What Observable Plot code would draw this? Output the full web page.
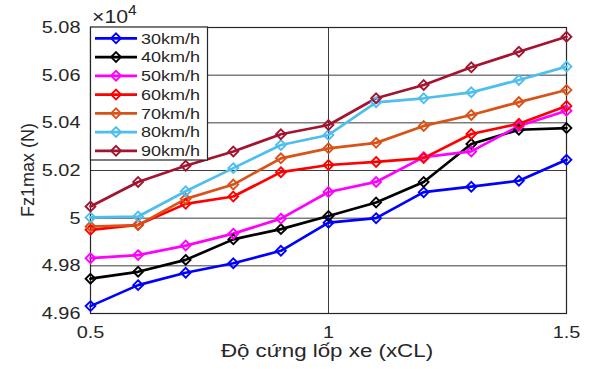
<!DOCTYPE html>
<html>
<head>
<meta charset="utf-8">
<script src="https://cdn.jsdelivr.net/npm/d3@7"></script>
<script src="https://cdn.jsdelivr.net/npm/@observablehq/plot@0.6"></script>
<style>
  html, body { margin: 0; padding: 0; background: #fff; }
  #chart svg { display: block; }
</style>
</head>
<body>
<div id="chart"></div>
<script>
// ---- data (values in units of ×10^4 N) ----
const xVals = [0.5, 0.6, 0.7, 0.8, 0.9, 1.0, 1.1, 1.2, 1.3, 1.4, 1.5];
const seriesNames = ["30km/h", "40km/h", "50km/h", "60km/h", "70km/h", "80km/h", "90km/h"];
const v30 = [4.9631, 4.9719, 4.9771, 4.9811, 4.9863, 4.9981, 5.0000, 5.0109, 5.0132, 5.0157, 5.0245];
const v40 = [4.9746, 4.9775, 4.9825, 4.9911, 4.9954, 5.0009, 5.0066, 5.0152, 5.0311, 5.0371, 5.0378];
const v50 = [4.9832, 4.9845, 4.9885, 4.9935, 4.9998, 5.0110, 5.0152, 5.0256, 5.0280, 5.0387, 5.0451];
const v60 = [4.9951, 4.9972, 5.0060, 5.0091, 5.0193, 5.0223, 5.0236, 5.0252, 5.0353, 5.0396, 5.0471];
const v70 = [4.9965, 4.9971, 5.0081, 5.0141, 5.0251, 5.0293, 5.0316, 5.0387, 5.0433, 5.0487, 5.0538];
const v80 = [5.0003, 5.0007, 5.0113, 5.0210, 5.0307, 5.0349, 5.0486, 5.0503, 5.0528, 5.0580, 5.0636];
const v90 = [5.0049, 5.0152, 5.0220, 5.0280, 5.0352, 5.0391, 5.0503, 5.0559, 5.0633, 5.0698, 5.0761];
const xTicks = [0.5, 1, 1.5];
const yTicks = [4.96, 4.98, 5, 5.02, 5.04, 5.06, 5.08];
const xLabel = "Độ cứng lốp xe (xCL)";
const yLabel = "Fz1max (N)";

// ---- styles ----
const colors = ["#0000FF", "#000000", "#FF00FF", "#FF0000", "#D95319", "#4DBEEE", "#A2142F"];
const FONT = "'Liberation Sans', Arial, Helvetica, sans-serif";

const allValues = [v30, v40, v50, v60, v70, v80, v90];
const data = seriesNames.flatMap((name, i) =>
  xVals.map((x, j) => ({ series: name, x, y: allValues[i][j] }))
);

const W = 589, H = 369;
const plot = Plot.plot({
  width: W,
  height: H,
  marginLeft: 90,
  marginRight: 23,
  marginTop: 27,
  marginBottom: 56,
  style: { fontFamily: FONT, fontSize: "17px", color: "#262626", background: "#fff" },
  x: { domain: [0.5, 1.5], ticks: xTicks, tickFormat: d => String(d), label: null },
  y: { domain: [4.96, 5.08], ticks: yTicks, tickFormat: d => String(d), label: null },
  color: { domain: seriesNames, range: colors },
  marks: [
    Plot.gridY(yTicks, { stroke: "#3c3c3c", strokeOpacity: 1, strokeWidth: 1 }),
    Plot.gridX([1], { stroke: "#3c3c3c", strokeOpacity: 1, strokeWidth: 1 }),
    Plot.frame({ stroke: "#262626", strokeWidth: 1.2 }),
    Plot.line(data, { x: "x", y: "y", z: "series", stroke: "series", strokeWidth: 2.7 }),
    Plot.dot(data, { x: "x", y: "y", stroke: "series", symbol: "diamond2", r: 4.4, strokeWidth: 1.9, fill: "none" }),
    Plot.axisX(xTicks, { tickSize: 0, tickPadding: 12, fontSize: 17, tickFormat: d => String(d), label: null }),
    Plot.axisY(yTicks, { tickSize: 0, tickPadding: 10, fontSize: 17, tickFormat: d => String(d), label: null })
  ]
});
document.getElementById("chart").appendChild(plot);

const svg = d3.select(plot);

// horizontally widen glyphs to match reference proportions
function widen(el, k) {
  const w = el.getComputedTextLength();
  if (w > 0) {
    el.setAttribute("textLength", (w * k).toFixed(2));
    el.setAttribute("lengthAdjust", "spacingAndGlyphs");
  }
}
svg.selectAll("text").each(function () { widen(this, 1.17); });

// axis titles
const xl = svg.append("text")
  .attr("x", 327).attr("y", 357)
  .attr("text-anchor", "middle")
  .attr("font-family", FONT).attr("font-size", 18)
  .attr("fill", "#262626")
  .text(xLabel);
widen(xl.node(), 1.24);

svg.append("text")
  .attr("transform", "translate(34,170) rotate(-90)")
  .attr("text-anchor", "middle")
  .attr("font-family", FONT).attr("font-size", 18)
  .attr("fill", "#262626")
  .text(yLabel);

// exponent label
const ex = svg.append("text")
  .attr("x", 92).attr("y", 23)
  .attr("text-anchor", "start")
  .attr("font-family", FONT).attr("fill", "#262626");
ex.append("tspan").attr("font-size", 19).text("×10");
ex.append("tspan").attr("font-size", 14).attr("dy", -8).text("4");
widen(ex.node(), 1.12);

// legend
const lg = svg.append("g").attr("text-anchor", "start");
lg.append("rect")
  .attr("x", 90.5).attr("y", 27).attr("width", 117).attr("height", 133)
  .attr("fill", "#fff").attr("stroke", "#262626").attr("stroke-width", 1.2);
const diamond = d3.symbol(d3.symbolDiamond2, Math.PI * 4.4 * 4.4)();
seriesNames.forEach((name, i) => {
  const cy = 38.3 + i * 18.75;
  lg.append("line")
    .attr("x1", 95).attr("x2", 137).attr("y1", cy).attr("y2", cy)
    .attr("stroke", colors[i]).attr("stroke-width", 2.7);
  lg.append("path")
    .attr("d", diamond)
    .attr("transform", `translate(116,${cy})`)
    .attr("fill", "none").attr("stroke", colors[i]).attr("stroke-width", 1.9);
  const t = lg.append("text")
    .attr("x", 141).attr("y", cy).attr("dy", "0.36em")
    .attr("text-anchor", "start")
    .attr("font-family", FONT).attr("font-size", 15)
    .attr("fill", "#262626")
    .text(name);
  widen(t.node(), 1.2);
});
</script>
</body>
</html>
